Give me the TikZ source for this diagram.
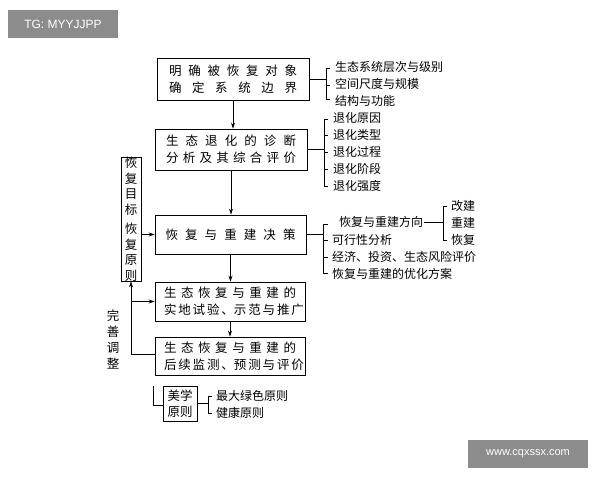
\documentclass[tikz,border=0pt]{standalone}
\usepackage{fontspec}
\setmainfont{Noto Sans CJK SC}
\newfontfamily\wm{Liberation Sans}
\usetikzlibrary{arrows.meta}
\newcommand{\jl}[2]{\makebox[#1][s]{#2}}
\begin{document}
\begin{tikzpicture}[x=1pt,y=-1pt,
  bx/.style={draw,line width=0.9pt,inner sep=0pt},
  ln/.style={line width=0.8pt},
  ar/.style={line width=0.8pt,-{Stealth[length=6pt,width=4pt]}},
  it/.style={anchor=west,font=\fontsize{12}{13}\selectfont,inner sep=1pt},
  bt/.style={font=\fontsize{12.5}{17}\selectfont,align=center}]
\useasboundingbox (0,0) rectangle (600,480);
\fill[white] (0,0) rectangle (600,480);
% watermarks
\node[fill=black!45,text=white,minimum width=110pt,minimum height=28pt,font=\wm\fontsize{12}{12}\selectfont] (wm1) at (63,24) {TG: MYYJJPP};
\node[fill=black!45,text=white,minimum width=120pt,minimum height=28pt,font=\wm\fontsize{11}{12}\selectfont] (wm2) at (528,454) {www.cqxssx.com};
% main boxes
\node[bx,minimum width=152pt,minimum height=42pt] (b1) at (233,79) {};
\node[bt] (t1) at (b1) {\jl{128pt}{明 确 被 恢 复 对 象}\\\jl{128pt}{确 定 系 统 边 界}};
\node[bx,minimum width=152pt,minimum height=41pt] (b2) at (231,149.5) {};
\node[bt] (t2) at (b2) {\jl{130pt}{生 态 退 化 的 诊 断}\\\jl{130pt}{分 析 及 其 综 合 评 价}};
\node[bx,minimum width=151pt,minimum height=39pt] (b3) at (230.5,234.5) {};
\node[bt] (t3) at (b3) {\jl{130pt}{恢 复 与 重 建 决 策}};
\node[bx,minimum width=150pt,minimum height=39pt] (b4) at (230,301.5) {};
\node[bt] (t4) at (b4) {\jl{132pt}{生 态 恢 复 与 重 建 的}\\\jl{132pt}{实 地 试 验 、示 范 与 推 广}};
\node[bx,minimum width=150pt,minimum height=38pt] (b5) at (230,356) {};
\node[bt] (t5) at (b5) {\jl{132pt}{生 态 恢 复 与 重 建 的}\\\jl{132pt}{后 续 监 测 、预 测 与 评 价}};
% left box
\node[bx,minimum width=20pt,minimum height=124pt] (lb) at (131,219) {};
\node[font=\fontsize{12.5}{15.5}\selectfont,align=center] (lt) at (lb) {恢\\复\\目\\标\\[4pt]恢\\复\\原\\则};
\node[font=\fontsize{12.5}{16}\selectfont,align=center] (ws) at (113,340) {完\\善\\调\\整};
% arrows
\draw[ar] (b1.south) -- (b1.south |- b2.north);
\draw[ar] (b2.south) -- (b2.south |- b3.north);
\draw[ar] (b3.south) -- (b3.south |- b4.north);
\draw[ar] (b4.south) -- (b4.south |- b5.north);
\draw[ar] (lb.east |- b3.west) -- (b3.west);
\coordinate (f1) at (131,354);
\coordinate (f2) at (131,301.5);
\draw[ln] (b5.west |- f1) -- (f1);
\draw[ar] (f1) -- (lb.south);
\draw[ar] (f2) -- (b4.west);
% bracket 1
\draw[ln] (b1.east) -- (326,79);
\draw[ln] (330,68) -- (326,68) -- (326,99) -- (330,99);
\draw[ln] (326,85) -- (330,85);
\node[it] (i11) at (334,67) {生态系统层次与级别};
\node[it] (i12) at (334,84) {空间尺度与规模};
\node[it] (i13) at (334,101) {结构与功能};
% bracket 2
\draw[ln] (b2.east) -- (324,149.5);
\draw[ln] (328,119) -- (324,119) -- (324,186) -- (328,186);
\foreach \y in {135,152,169} \draw[ln] (324,\y) -- (328,\y);
\node[it] (i21) at (332,118) {退化原因};
\node[it] (i22) at (332,135) {退化类型};
\node[it] (i23) at (332,152) {退化过程};
\node[it] (i24) at (332,169) {退化阶段};
\node[it] (i25) at (332,186) {退化强度};
% bracket 3
\draw[ln] (b3.east) -- (323,234.5);
\draw[ln] (328,224) -- (323,224) -- (323,273) -- (328,273);
\foreach \y in {240,257} \draw[ln] (323,\y) -- (328,\y);
\node[it] (i31) at (338,222) {恢复与重建方向};
\node[it] (i32) at (331,240) {可行性分析};
\node[it] (i33) at (331,257) {经济、投资、生态风险评价};
\node[it] (i34) at (331,274) {恢复与重建的优化方案};
\draw[ln] (i31.east) -- (443,222);
\draw[ln] (447,206) -- (443,206) -- (443,240) -- (447,240);
\node[it] (i41) at (450,206) {改建};
\node[it] (i42) at (450,223) {重建};
\node[it] (i43) at (450,240) {恢复};
% bottom
\node[bx,minimum width=34pt,minimum height=35pt] (mb) at (180,403.5) {};
\node[font=\fontsize{12.5}{16}\selectfont,align=center] (mt) at (mb) {美学\\原则};
\coordinate (m0) at (153,386);
\draw[ln] (m0) -- (153,405) -- (mb.west |- 0,405);
\draw[ln] (mb.east) -- (208,403.5);
\draw[ln] (212,396) -- (208,396) -- (208,413) -- (212,413);
\node[it] (i51) at (215,396) {最大绿色原则};
\node[it] (i52) at (215,413) {健康原则};
\end{tikzpicture}
\end{document}
